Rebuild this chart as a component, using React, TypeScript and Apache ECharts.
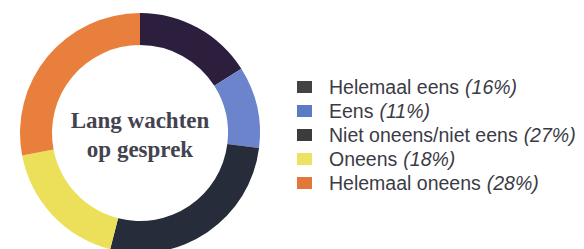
import React, { useEffect, useRef } from "react";
import * as echarts from "echarts";

const categories = ["Helemaal eens", "Eens", "Niet oneens/niet eens", "Oneens", "Helemaal oneens"];
const values = [16, 11, 27, 18, 28];
const sliceColors = ["#2b1f3d", "#6b84cb", "#272c3b", "#ecdf5a", "#e97f3c"];
const legendColors = ["#434343", "#5b7bc6", "#3c3c3c", "#efe262", "#e2773a"];
const centerLines = ["Lang wachten", "op gesprek"];

export default function App() {
  const ref = useRef<HTMLDivElement>(null);
  useEffect(() => {
    if (!ref.current) return;
    const chart = echarts.init(ref.current, null, { renderer: "svg" });
    const pctByName: Record<string, number> = {};
    categories.forEach((c, i) => (pctByName[c] = values[i]));
    chart.setOption({
      animation: false,
      backgroundColor: "#ffffff",
      title: {
        text: centerLines.join("\n"),
        left: 140,
        top: 106,
        textAlign: "center",
        padding: 0,
        textStyle: {
          fontFamily: "Liberation Serif",
          fontWeight: "bold",
          fontSize: 23,
          lineHeight: 29,
          color: "#43434f",
        },
      },
      legend: {
        orient: "vertical",
        left: 297,
        top: 75,
        padding: 0,
        itemWidth: 15,
        itemHeight: 12,
        itemGap: 0,
        icon: "rect",
        selectedMode: false,
        data: categories.map((c, i) => ({ name: c, itemStyle: { color: legendColors[i] } })),
        formatter: (name: string) => `{n|${name}}{p|(${pctByName[name]}%)}`,
        textStyle: {
          padding: [0, 0, 0, 12],
          lineHeight: 24,
          rich: {
            n: { fontFamily: "Liberation Sans", fontSize: 19.5, color: "#3b3b45", lineHeight: 24 },
            p: {
              fontFamily: "Liberation Sans",
              fontSize: 19.5,
              fontStyle: "italic",
              color: "#3b3b45",
              lineHeight: 24,
              padding: [0, 0, 0, 6],
            },
          },
        },
      },
      series: [
        {
          type: "pie",
          center: [140, 133],
          radius: [88, 120],
          startAngle: 90,
          clockwise: true,
          label: { show: false },
          labelLine: { show: false },
          emphasis: { disabled: true },
          data: categories.map((c, i) => ({ name: c, value: values[i], itemStyle: { color: sliceColors[i] } })),
        },
      ],
    });
    return () => chart.dispose();
  }, []);
  return <div ref={ref} style={{ position: "fixed", left: 0, top: 0, width: 584, height: 249 }} />;
}
